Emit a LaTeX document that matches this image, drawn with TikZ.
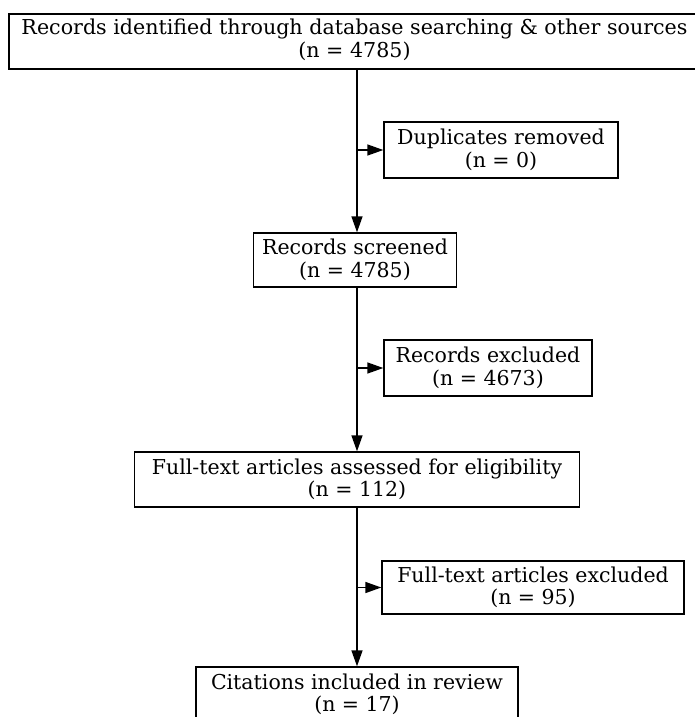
\documentclass[tikz,border=0pt]{standalone}
\usepackage{fontspec}
\setmainfont{DejaVu Serif}
\usetikzlibrary{arrows.meta}
\tikzset{
  box/.style={draw, line width=1.4pt, align=center, inner sep=0pt, font=\fontsize{20.5pt}{22.5pt}\selectfont},
  flow/.style={line width=1.5pt, -{Triangle[length=16pt,width=11pt]}},
}
\begin{document}
\begin{tikzpicture}[x=1pt,y=-1pt]
\useasboundingbox (0,0) rectangle (695,717);
\clip (0,0) rectangle (695,717);
\node[box, minimum width=691pt, minimum height=55pt] (top) at (354.5,41.5)
  {\resizebox{666pt}{\height}{\begin{tabular}{@{}c@{}}Records identified through database searching \& other sources\\(n = 4785)\end{tabular}}};
\node[box, minimum width=234pt, minimum height=56pt] (dup) at (501,150) {Duplicates removed\\(n = 0)};
\node[box, minimum width=203pt, minimum height=54pt] (scr) at (355,260) {Records screened\\(n = 4785)};
\node[box, minimum width=208pt, minimum height=56pt] (ex1) at (488,368) {Records excluded\\(n = 4673)};
\node[box, minimum width=445pt, minimum height=55pt] (ass) at (357,479.5) {Full-text articles assessed for eligibility\\(n = 112)};
\node[box, minimum width=302pt, minimum height=53pt] (ex2) at (533,587.5) {Full-text articles excluded\\(n = 95)};
\node[box, minimum width=322pt, minimum height=55pt] (cit) at (357,694.5) {Citations included in review\\(n = 17)};
\coordinate (s1) at (357,69);
\coordinate (s2) at (357,287);
\coordinate (s3) at (357,507);
\draw[flow] (s1) -- (s1 |- scr.north);
\draw[flow] (s1 |- dup.west) -- (dup.west);
\draw[flow] (s2) -- (s2 |- ass.north);
\draw[flow] (s2 |- ex1.west) -- (ex1.west);
\draw[flow] (s3) -- (s3 |- cit.north);
\draw[flow] (s3 |- ex2.west) -- (ex2.west);
\end{tikzpicture}
\end{document}
